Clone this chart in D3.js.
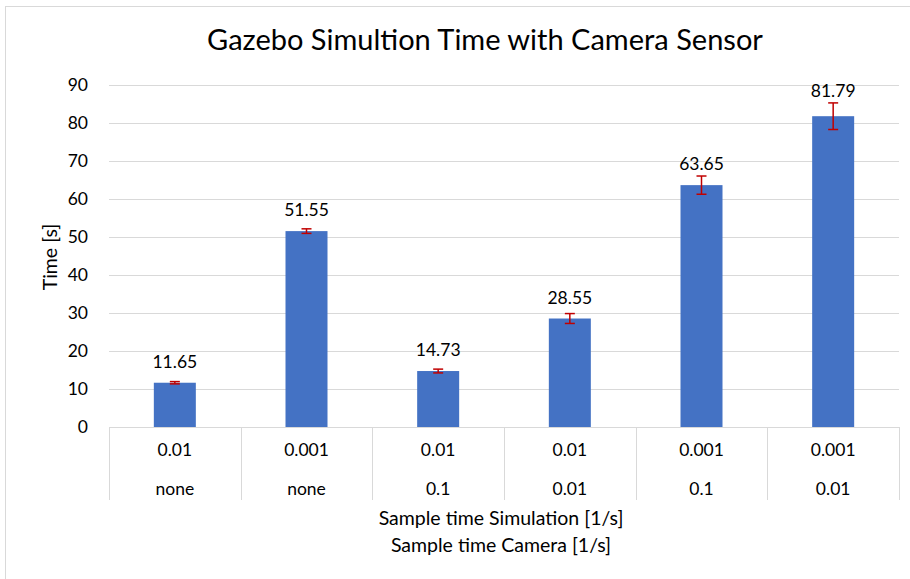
<!DOCTYPE html>
<html>
<head>
<meta charset="utf-8">
<script src="https://cdn.jsdelivr.net/npm/d3@7"></script>
<style>
  body { margin: 0; background: #fff; }
  svg text { font-family: Lato, "Open Sans", sans-serif; fill: #000; }
</style>
</head>
<body>
<svg id="vis" width="910" height="579"></svg>
<script>
// values
let simTimes = ["0.01", "0.001", "0.01", "0.01", "0.001", "0.001"];
let camTimes = ["none", "none", "0.1", "0.01", "0.1", "0.01"];
let means = [11.65, 51.55, 14.73, 28.55, 63.65, 81.79];
let errors = [0.3, 0.6, 0.5, 1.3, 2.4, 3.5];
let yTicks = [0, 10, 20, 30, 40, 50, 60, 70, 80, 90];

let svg = d3.select("#vis");
let width = 910, height = 579;
let margin = {left: 109, right: 11, top: 85, bottom: 152};

// chart border
svg.append("rect")
    .attr("x", 5.5).attr("y", 6.5)
    .attr("width", width + 10).attr("height", height + 10)
    .attr("fill", "none")
    .attr("stroke", "#d9d9d9");

let idx = d3.range(means.length);

let x = d3.scaleBand()
    .domain(idx)
    .range([margin.left, width - margin.right])
    .paddingInner(0)
    .paddingOuter(0);

let y = d3.scaleLinear()
    .domain([0, 90])
    .range([height - margin.bottom, margin.top]);

// gridlines
svg.append("g")
    .selectAll("line")
    .data(yTicks.slice(1))
    .enter()
    .append("line")
    .attr("x1", margin.left)
    .attr("x2", width - margin.right)
    .attr("y1", d => Math.round(y(d)) + 0.5)
    .attr("y2", d => Math.round(y(d)) + 0.5)
    .attr("stroke", "#d9d9d9");

// y tick labels
svg.append("g")
    .selectAll("text")
    .data(yTicks)
    .enter()
    .append("text")
    .attr("x", 88)
    .attr("y", d => y(d))
    .attr("dy", "0.35em")
    .attr("text-anchor", "end")
    .attr("font-size", 17.5)
    .text(d => d);

// bars
let barW = 42;
svg.append("g")
    .selectAll("rect")
    .data(idx)
    .enter()
    .append("rect")
    .attr("x", i => x(i) + x.bandwidth() / 2 - barW / 2)
    .attr("y", i => y(means[i]))
    .attr("width", barW)
    .attr("height", i => y(0) - y(means[i]))
    .attr("fill", "#4472c4");

// error bars
let eb = svg.append("g").attr("stroke", "#c00000").attr("stroke-width", 1.5);
idx.forEach(i => {
    let cx = x(i) + x.bandwidth() / 2;
    let top = y(means[i] + errors[i]), bot = y(means[i] - errors[i]);
    eb.append("line").attr("x1", cx).attr("x2", cx).attr("y1", top).attr("y2", bot);
    eb.append("line").attr("x1", cx - 5).attr("x2", cx + 5).attr("y1", top).attr("y2", top);
    eb.append("line").attr("x1", cx - 5).attr("x2", cx + 5).attr("y1", bot).attr("y2", bot);
});

// value labels
svg.append("g")
    .selectAll("text")
    .data(idx)
    .enter()
    .append("text")
    .attr("x", i => x(i) + x.bandwidth() / 2)
    .attr("y", i => Math.min(y(means[i]) - 15, y(means[i] + errors[i]) - 6))
    .attr("text-anchor", "middle")
    .attr("font-size", 17.5)
    .text(i => means[i].toFixed(2));

// category table
let tableBottom = 500;
svg.append("line")
    .attr("x1", margin.left).attr("x2", width - margin.right)
    .attr("y1", y(0) + 0.5).attr("y2", y(0) + 0.5)
    .attr("stroke", "#d9d9d9");
svg.append("g")
    .selectAll("line")
    .data(idx.concat([idx.length]))
    .enter()
    .append("line")
    .attr("x1", i => Math.round(i < idx.length ? x(i) : x.range()[1]) + 0.5)
    .attr("x2", i => Math.round(i < idx.length ? x(i) : x.range()[1]) + 0.5)
    .attr("y1", y(0))
    .attr("y2", tableBottom)
    .attr("stroke", "#d9d9d9");

svg.append("g")
    .selectAll("text")
    .data(idx)
    .enter()
    .append("text")
    .attr("x", i => x(i) + x.bandwidth() / 2)
    .attr("y", 456)
    .attr("text-anchor", "middle")
    .attr("font-size", 17.5)
    .text(i => simTimes[i]);

svg.append("g")
    .selectAll("text")
    .data(idx)
    .enter()
    .append("text")
    .attr("x", i => x(i) + x.bandwidth() / 2)
    .attr("y", 495)
    .attr("text-anchor", "middle")
    .attr("font-size", 17.5)
    .text(i => camTimes[i]);

// axis titles
svg.append("text")
    .attr("x", 501).attr("y", 525)
    .attr("text-anchor", "middle")
    .attr("font-size", 19.5)
    .text("Sample time Simulation [1/s]");
svg.append("text")
    .attr("x", 501).attr("y", 552)
    .attr("text-anchor", "middle")
    .attr("font-size", 19.5)
    .text("Sample time Camera [1/s]");

svg.append("text")
    .attr("transform", "translate(57,257) rotate(-90)")
    .attr("text-anchor", "middle")
    .attr("font-size", 19.5)
    .text("Time [s]");

// title
svg.append("text")
    .attr("x", 485).attr("y", 50)
    .attr("text-anchor", "middle")
    .attr("font-size", 29)
    .text("Gazebo Simultion Time with Camera Sensor");
</script>
</body>
</html>
